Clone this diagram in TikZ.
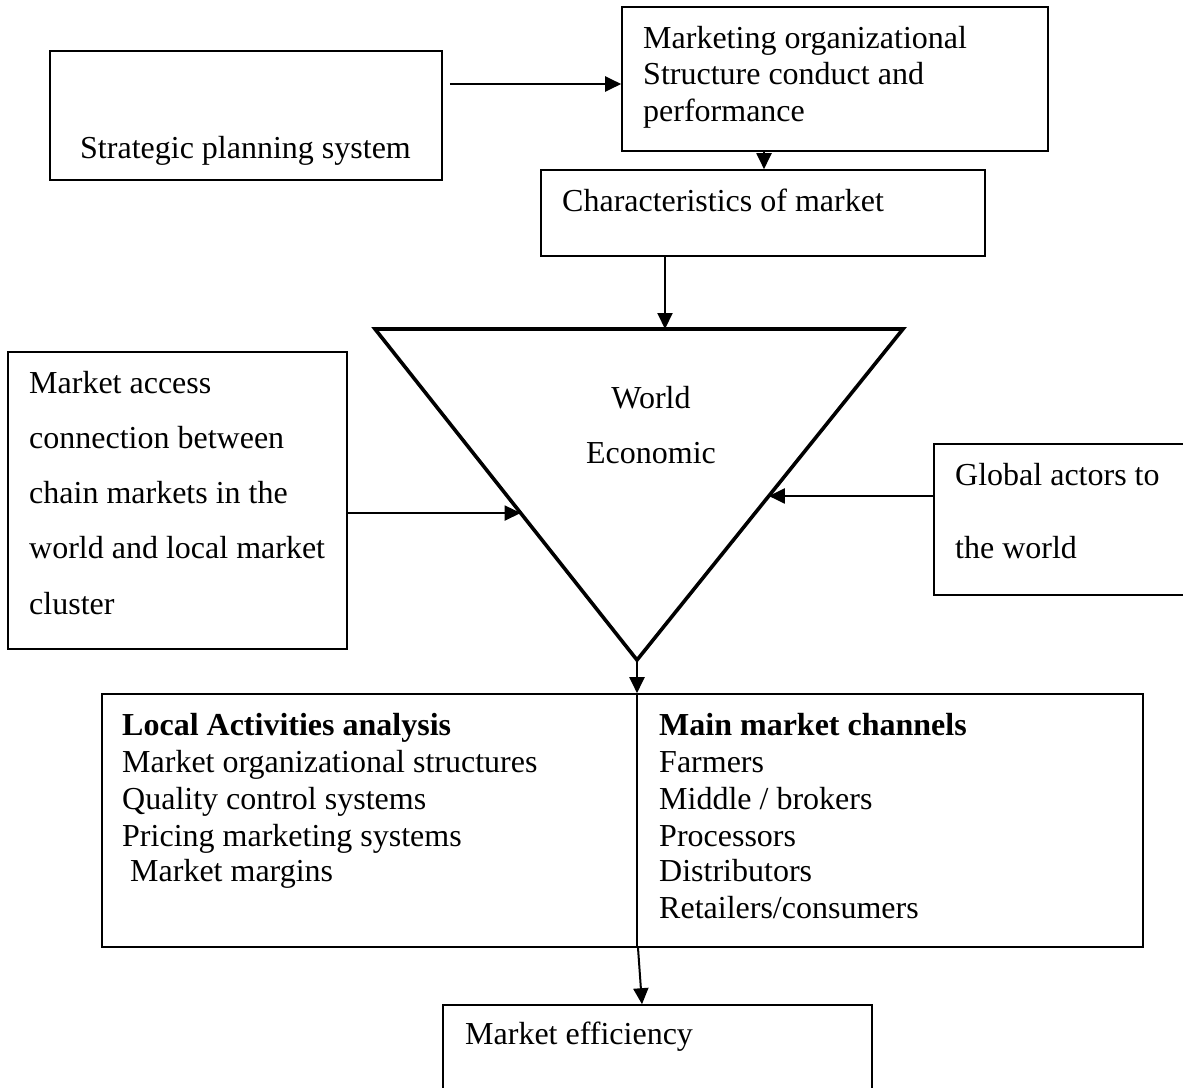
\documentclass[tikz,border=0pt]{standalone}
\usepackage{fontspec}
\setmainfont{Liberation Serif}
\usetikzlibrary{arrows.meta,calc}
\begin{document}
\begin{tikzpicture}[x=1pt,y=-1pt,
  box/.style={draw, line width=1.6pt, inner sep=0pt},
  txt/.style={anchor=base west, inner sep=0pt, font=\fontsize{32}{37}\selectfont},
  ctxt/.style={anchor=base, inner sep=0pt, font=\fontsize{32}{37}\selectfont},
  arr/.style={line width=2pt, -{Triangle[length=16pt,width=15pt]}},
  tri/.style={line width=3.6pt, line join=miter}
]
\useasboundingbox (0,0) rectangle (1183,1087);
\fill[white] (0,0) rectangle (1183,1087);

% boxes
\node[box, minimum width=392pt, minimum height=129pt] (strat) at (246,115.5) {};
\node[box, minimum width=426pt, minimum height=144pt] (mkt) at (835,79) {};
\node[box, minimum width=444pt, minimum height=86pt] (char) at (763,213) {};
\node[box, minimum width=339pt, minimum height=297pt] (left) at (177.5,500.5) {};
\node[box, minimum width=266pt, minimum height=151pt] (right) at (1067,519.5) {};
\node[box, minimum width=1041pt, minimum height=253pt] (big) at (622.5,820.5) {};
\node[box, minimum width=429pt, minimum height=105pt] (eff) at (657.5,1057.5) {};

% triangle
\coordinate (tl) at (375,329);
\coordinate (tr) at (903,329);
\coordinate (tb) at (637,660);
\draw[tri] (tl) -- (tr) -- (tb) -- cycle;
\coordinate (ta) at (665,329);
\coordinate (lp) at ($(tl)!0.556!(tb)$);
\coordinate (rp) at ($(tr)!0.5045!(tb)$);

% divider
\draw[line width=1.6pt] (big.north -| tb) -- (big.south -| tb);

% arrows
\draw[arr] ([xshift=7pt]strat.east |- 0,84) -- (mkt.west |- 0,84);
\draw[arr] (mkt.south -| 764,0) -- (char.north -| 764,0);
\draw[arr] (char.south -| ta) -- (ta);
\draw[arr] (left.east |- lp) -- (lp);
\draw[arr] (right.west |- rp) -- (rp);
\draw[arr] (tb) -- (big.north -| tb);
\draw[arr] (big.south -| 638,0) -- (eff.north -| 642,0);

% texts
\node[txt] (s1) at (80,158) {Strategic planning system};
\node[txt] (m1) at (643,48) {Marketing organizational};
\node[txt] (m2) at (643,84) {Structure conduct and};
\node[txt] (m3) at (643,121) {performance};
\node[txt] (c1) at (562,211) {Characteristics of market};
\node[ctxt] (w1) at (651,408) {World};
\node[ctxt] (w2) at (651,463) {Economic};
\node[txt] (l1) at (29,393) {Market access};
\node[txt] (l2) at (29,448) {connection between};
\node[txt] (l3) at (29,503) {chain markets in the};
\node[txt] (l4) at (29,558) {world and local market};
\node[txt] (l5) at (29,614) {cluster};
\node[txt] (r1) at (955,485) {Global actors to};
\node[txt] (r2) at (955,558) {the world};
\node[txt] (a1) at (122,735) {\textbf{Local Activities analysis}};
\node[txt] (a2) at (122,772) {Market organizational structures};
\node[txt] (a3) at (122,809) {Quality control systems};
\node[txt] (a4) at (122,846) {Pricing marketing systems};
\node[txt] (a5) at (122,881) {\hphantom{ }Market margins};
\node[txt] (b1) at (659,735) {\textbf{Main market channels}};
\node[txt] (b2) at (659,772) {Farmers};
\node[txt] (b3) at (659,809) {Middle / brokers};
\node[txt] (b4) at (659,846) {Processors};
\node[txt] (b5) at (659,881) {Distributors};
\node[txt] (b6) at (659,918) {Retailers/consumers};
\node[txt] (e1) at (465,1044) {Market efficiency};
\end{tikzpicture}
\end{document}
